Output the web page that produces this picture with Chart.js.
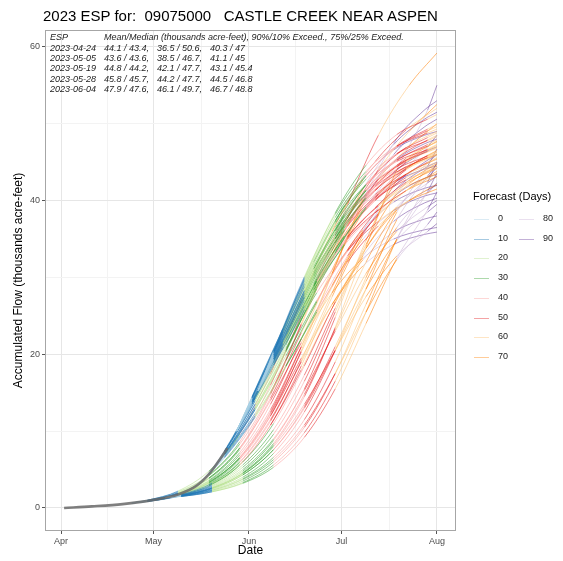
<!DOCTYPE html>
<html>
<head>
<meta charset="utf-8">
<script src="https://cdn.jsdelivr.net/npm/chart.js@4.4.1/dist/chart.umd.min.js"></script>
<style>
  body { margin: 0; background: #fff; font-family: "Liberation Sans", Arial, sans-serif; }
  #wrap { position: relative; width: 563px; height: 561px; }
  #espChart { position: absolute; left: 0; top: 0; }
  #title { position: absolute; left: 43px; top: 7px; font-size: 15px; color: #000; white-space: pre; }
  #espTable { position: absolute; left: 0; top: 0; font-size: 9px; font-style: italic; color: #222; white-space: pre; }
  #espTable div { position: absolute; line-height: 10px; }
  #legend { position: absolute; left: 0; top: 0; font-size: 9px; color: #222; }
  #legend div { position: absolute; white-space: pre; }
  .legendTitle { font-size: 11px; color: #000; }
  .legendKey { width: 15px; height: 0; }
</style>
</head>
<body>
<div id="wrap">
  <canvas id="espChart" width="563" height="561"></canvas>
  <div id="title">2023 ESP for:  09075000   CASTLE CREEK NEAR ASPEN</div>
  <div id="espTable"></div>
  <div id="legend"></div>
</div>
<script>
// x values are days since april 1
const monthTickDays = [0, 30, 61, 91, 122];
const monthTickLabels = ["Apr", "May", "Jun", "Jul", "Aug"];
const minorTickDays = [15, 45.5, 76, 106.5];
const flowTicks = [0, 20, 40, 60];
const flowMinorTicks = [10, 30, 50];

// forecast lead (days) legend
const leadLabels = [0, 10, 20, 30, 40, 50, 60, 70, 80, 90];
const leadColors = ["166,206,227", "31,120,180", "178,223,138", "51,160,44", "251,154,153",
  "227,26,28", "253,191,111", "255,127,0", "202,178,214", "106,61,154"];

// summary table
const espDates = ["2023-04-24", "2023-05-05", "2023-05-19", "2023-05-28", "2023-06-04"];
const espMeanMedian = ["44.1 / 43.4,", "43.6 / 43.6,", "44.8 / 44.2,", "45.8 / 45.7,", "47.9 / 47.6,"];
const esp90to10 = ["36.5 / 50.6,", "38.5 / 46.7,", "42.1 / 47.7,", "44.2 / 47.7,", "46.1 / 49.7,"];
const esp75to25 = ["40.3 / 47", "41.1 / 45", "43.1 / 45.4", "44.5 / 46.8", "46.7 / 48.8"];

// observed accumulated flow (thousands acre-feet)
const obsDays = [1, 10, 20, 30, 38, 44, 48, 51, 54];
const obsFlow = [0, 0.2, 0.5, 1.05, 1.75, 2.9, 4.4, 6.0, 7.8];

// forecast issued 2023-04-24
const f1Issue = 23;
const f1Days = [23, 28, 38, 48, 58, 68, 78, 88, 98, 108, 118, 122];
const f1Traces = [
  [0.65, 0.9, 1.7, 3.4, 6.5, 12.0, 19.5, 26.5, 31.5, 34.3, 35.6, 35.9],
  [0.65, 0.95, 1.9, 3.9, 7.8, 14.0, 21.5, 28.0, 32.5, 35.0, 36.2, 36.5],
  [0.65, 0.85, 1.6, 3.1, 6.0, 11.5, 19.0, 26.5, 32.3, 35.9, 37.6, 38.0],
  [0.65, 0.85, 1.5, 2.9, 5.6, 10.8, 18.0, 26.0, 32.8, 37.3, 39.7, 40.3],
  [0.65, 0.95, 1.9, 3.8, 7.6, 14.3, 22.8, 30.5, 36.2, 39.8, 41.6, 42.0],
  [0.65, 0.9, 1.7, 3.3, 6.5, 12.3, 20.3, 28.8, 35.8, 40.5, 42.9, 43.4],
  [0.65, 1.0, 2.1, 4.3, 8.6, 16.0, 25.0, 33.0, 38.8, 42.3, 44.1, 44.5],
  [0.65, 0.85, 1.6, 3.0, 5.9, 11.3, 19.2, 28.0, 36.0, 41.8, 45.0, 46.0],
  [0.65, 0.95, 1.8, 3.6, 7.2, 13.5, 22.0, 31.0, 38.5, 43.6, 46.3, 47.0],
  [0.65, 1.0, 2.2, 4.8, 9.6, 17.5, 27.0, 36.0, 42.7, 46.6, 48.5, 49.0],
  [0.65, 0.9, 1.7, 3.3, 6.6, 12.5, 21.0, 30.5, 39.5, 46.0, 49.6, 50.6],
  [0.65, 0.95, 2.0, 4.2, 8.3, 15.0, 24.0, 33.5, 41.5, 47.3, 50.6, 51.5],
  [0.65, 0.9, 1.75, 3.5, 6.9, 12.8, 21.0, 29.0, 35.0, 38.7, 40.6, 41.0],
  [0.65, 0.85, 1.55, 2.9, 5.6, 10.8, 18.5, 27.5, 35.5, 41.2, 44.2, 45.0],
  [0.65, 0.95, 1.9, 3.9, 7.8, 14.8, 23.8, 33.0, 40.2, 45.0, 47.4, 48.0],
  [0.65, 0.9, 1.7, 3.2, 6.3, 12.0, 20.5, 30.5, 40.0, 47.5, 51.8, 53.0]
];

// forecast issued 2023-05-05
const f2Issue = 34;
const f2Days = [34, 39, 49, 59, 69, 79, 89, 99, 109, 119, 122];
const f2Traces = [
  [1.35, 1.6, 2.6, 4.5, 8.0, 13.5, 20.5, 27.5, 32.8, 36.0, 37.0],
  [1.35, 1.55, 2.3, 3.7, 6.3, 10.8, 17.5, 25.5, 32.3, 36.9, 38.5],
  [1.35, 1.65, 2.8, 5.0, 9.0, 15.3, 23.0, 30.5, 36.0, 39.2, 40.0],
  [1.35, 1.5, 2.1, 3.2, 5.3, 9.2, 15.5, 24.0, 32.5, 38.8, 41.1],
  [1.35, 1.6, 2.5, 4.3, 7.6, 13.2, 21.0, 29.5, 36.5, 41.0, 42.3],
  [1.35, 1.7, 3.0, 5.6, 10.2, 17.3, 26.0, 33.8, 39.2, 42.3, 43.2],
  [1.35, 1.5, 2.2, 3.5, 6.0, 10.5, 17.5, 26.5, 35.0, 41.2, 43.6],
  [1.35, 1.6, 2.6, 4.6, 8.4, 14.8, 23.3, 32.0, 38.8, 43.0, 44.3],
  [1.35, 1.5, 2.1, 3.3, 5.6, 9.8, 16.5, 25.5, 35.0, 42.4, 45.0],
  [1.35, 1.7, 2.9, 5.3, 9.6, 16.5, 25.5, 34.3, 40.9, 44.9, 46.0],
  [1.35, 1.55, 2.4, 4.0, 7.1, 12.5, 20.5, 30.0, 38.5, 44.5, 46.7],
  [1.35, 1.6, 2.6, 4.5, 8.2, 14.5, 23.5, 34.0, 44.0, 51.8, 55.0],
  [1.35, 1.6, 2.5, 4.3, 7.6, 13.0, 20.5, 28.5, 34.8, 38.5, 39.5],
  [1.35, 1.75, 3.2, 6.0, 11.0, 18.5, 26.8, 33.8, 38.8, 41.4, 42.0],
  [1.35, 1.55, 2.3, 3.8, 6.6, 11.5, 19.0, 28.5, 37.5, 43.2, 44.8],
  [1.35, 1.65, 2.7, 4.8, 8.8, 15.5, 24.8, 34.8, 42.7, 47.0, 48.5]
];

// forecast issued 2023-05-19
const f3Issue = 48;
const f3Days = [48, 53, 63, 73, 83, 93, 103, 113, 122];
const f3Traces = [
  [4.4, 7.0, 13.5, 20.8, 28.0, 33.5, 37.3, 40.0, 41.5],
  [4.4, 6.6, 12.0, 18.5, 25.5, 32.0, 36.7, 40.0, 42.1],
  [4.4, 7.3, 14.3, 22.0, 29.5, 35.0, 38.8, 41.5, 43.1],
  [4.4, 6.9, 12.8, 19.8, 27.0, 33.4, 38.1, 41.6, 43.8],
  [4.4, 7.2, 13.9, 21.5, 29.0, 35.2, 39.4, 42.4, 44.2],
  [4.4, 6.7, 12.3, 19.2, 26.8, 33.6, 38.9, 42.6, 44.8],
  [4.4, 7.3, 14.3, 22.2, 30.4, 36.7, 40.9, 43.7, 45.4],
  [4.4, 7.0, 13.1, 20.5, 28.5, 35.7, 40.8, 44.4, 46.5],
  [4.4, 7.4, 14.6, 22.8, 31.2, 38.0, 42.5, 45.6, 47.7],
  [4.4, 7.0, 13.5, 21.2, 29.8, 37.7, 44.0, 49.0, 52.5],
  [4.4, 7.2, 14.0, 21.8, 29.5, 35.3, 39.3, 42.0, 43.5],
  [4.4, 6.5, 11.8, 18.4, 25.8, 32.8, 38.3, 42.2, 44.5],
  [4.4, 7.3, 14.4, 22.5, 30.8, 37.3, 41.7, 44.5, 46.0],
  [4.4, 6.9, 12.8, 20.3, 28.8, 36.7, 42.8, 47.0, 50.0],
  [4.4, 7.0, 13.0, 20.5, 29.5, 39.5, 48.5, 55.0, 59.2]
];

// forecast issued 2023-05-28
const f4Issue = 57;
const f4Days = [57, 62, 72, 82, 92, 102, 112, 122];
const f4Traces = [
  [10.0, 13.8, 21.3, 28.4, 34.2, 38.4, 41.3, 43.5],
  [10.0, 14.3, 22.6, 30.2, 36.2, 40.2, 42.7, 44.2],
  [10.0, 13.5, 20.8, 28.0, 34.4, 39.1, 42.4, 44.5],
  [10.0, 14.4, 23.0, 30.7, 36.7, 40.8, 43.4, 45.0],
  [10.0, 13.9, 21.7, 29.1, 35.4, 40.1, 43.4, 45.5],
  [10.0, 14.1, 22.4, 30.4, 36.9, 41.4, 44.1, 45.9],
  [10.0, 13.6, 21.0, 28.4, 35.1, 40.4, 44.0, 46.3],
  [10.0, 14.5, 23.3, 31.4, 38.0, 42.4, 45.1, 46.8],
  [10.0, 14.0, 22.0, 29.8, 36.6, 41.9, 45.5, 47.7],
  [10.0, 14.3, 22.8, 31.1, 38.2, 43.4, 46.9, 49.0],
  [10.0, 13.8, 21.4, 28.9, 35.4, 40.0, 43.0, 44.8],
  [10.0, 14.3, 22.9, 31.1, 37.5, 41.8, 44.4, 46.0],
  [10.0, 13.7, 21.5, 29.3, 36.1, 41.3, 45.0, 47.2],
  [10.0, 14.4, 23.3, 32.0, 39.4, 45.1, 49.2, 52.0]
];

// forecast issued 2023-06-04
const f5Issue = 64;
const f5Days = [64, 69, 79, 89, 99, 109, 119, 122];
const f5Traces = [
  [15.3, 18.9, 26.3, 33.4, 39.0, 42.6, 45.0, 45.6],
  [15.3, 19.4, 27.5, 35.0, 40.3, 43.7, 45.6, 46.1],
  [15.3, 18.6, 25.8, 33.2, 39.2, 43.3, 45.9, 46.5],
  [15.3, 19.7, 28.3, 36.0, 41.3, 44.6, 46.4, 46.9],
  [15.3, 19.2, 27.0, 34.5, 40.4, 44.4, 46.7, 47.3],
  [15.3, 19.9, 28.8, 36.5, 42.0, 45.3, 47.1, 47.6],
  [15.3, 19.4, 27.8, 35.5, 41.4, 45.2, 47.3, 47.9],
  [15.3, 20.2, 29.6, 37.4, 42.8, 46.1, 47.8, 48.3],
  [15.3, 19.7, 28.3, 36.1, 42.1, 46.1, 48.2, 48.8],
  [15.3, 20.4, 30.1, 38.2, 43.8, 47.1, 48.8, 49.3],
  [15.3, 19.9, 29.1, 37.2, 43.2, 47.1, 49.3, 49.9],
  [15.3, 20.2, 29.9, 38.4, 44.6, 48.6, 50.6, 51.2],
  [15.3, 19.6, 28.0, 35.4, 40.8, 44.1, 45.8, 46.3],
  [15.3, 20.1, 29.3, 37.0, 42.1, 45.1, 46.6, 47.0],
  [15.3, 19.3, 27.4, 35.1, 41.3, 45.5, 47.9, 48.5],
  [15.3, 20.3, 29.8, 37.8, 43.3, 47.0, 49.1, 49.6]
];

// colour of a segment from its lead time in days (rounded to nearest 10)
let leadColor = function (lead, alpha) {
  let bin = Math.min(leadColors.length - 1, Math.max(0, Math.floor((lead + 5.5) / 10)));
  return "rgba(" + leadColors[bin] + "," + alpha + ")";
};

// turn a forecast into line datasets
let makeTraces = function (issue, days, traces) {
  return traces.map(function (values) {
    return {
      data: days.map((d, i) => ({ x: d, y: values[i] })),
      borderColor: leadColor(0, 0.6),
      borderWidth: 0.9,
      segment: {
        borderColor: ctx => leadColor(ctx.p0.parsed.x - issue, 0.6)
      }
    };
  });
};

let datasets = [
  {
    data: obsDays.map((d, i) => ({ x: d, y: obsFlow[i] })),
    borderColor: "rgba(105,105,105,0.85)",
    borderWidth: 2.6
  }
].concat(
  makeTraces(f5Issue, f5Days, f5Traces),
  makeTraces(f4Issue, f4Days, f4Traces),
  makeTraces(f3Issue, f3Days, f3Traces),
  makeTraces(f2Issue, f2Days, f2Traces),
  makeTraces(f1Issue, f1Days, f1Traces)
);

// panel border on all four sides
const panelBorder = {
  id: "panelBorder",
  afterDraw(chart) {
    const a = chart.chartArea;
    const c = chart.ctx;
    c.save();
    c.strokeStyle = "#a6a6a6";
    c.lineWidth = 1;
    c.strokeRect(a.left + 0.5, a.top + 0.5, a.right - a.left - 1, a.bottom - a.top - 1);
    c.restore();
  }
};

let xTicks = monthTickDays.concat(minorTickDays).sort((a, b) => a - b);
let yTicks = flowTicks.concat(flowMinorTicks).sort((a, b) => a - b);

new Chart(document.getElementById("espChart"), {
  type: "line",
  data: { datasets: datasets },
  options: {
    responsive: false,
    animation: false,
    devicePixelRatio: 1,
    layout: { padding: { left: 0, top: 30, right: 107, bottom: 0 } },
    elements: {
      point: { radius: 0 },
      line: { cubicInterpolationMode: "monotone" }
    },
    plugins: {
      legend: { display: false },
      tooltip: { enabled: false }
    },
    scales: {
      x: {
        type: "linear",
        min: -5.2,
        max: 128.2,
        afterBuildTicks: s => { s.ticks = xTicks.map(v => ({ value: v })); },
        afterFit: s => { s.height = 30; },
        border: { display: false },
        grid: {
          color: c => monthTickDays.includes(c.tick.value) ? "#e6e6e6" : "#f3f3f3",
          tickColor: c => monthTickDays.includes(c.tick.value) ? "#555" : "rgba(0,0,0,0)",
          tickLength: 3
        },
        ticks: {
          autoSkip: false,
          maxRotation: 0,
          padding: 2,
          color: "#4d4d4d",
          font: { family: "Liberation Sans", size: 9 },
          callback: v => {
            let i = monthTickDays.indexOf(v);
            return i >= 0 ? monthTickLabels[i] : "";
          }
        },
        title: {
          display: true,
          text: "Date",
          color: "#000",
          font: { family: "Liberation Sans", size: 12 },
          padding: { top: 0, bottom: 3 }
        }
      },
      y: {
        min: -3,
        max: 62.2,
        afterBuildTicks: s => { s.ticks = yTicks.map(v => ({ value: v })); },
        afterFit: s => { s.width = 45; },
        border: { display: false },
        grid: {
          color: c => flowTicks.includes(c.tick.value) ? "#e6e6e6" : "#f3f3f3",
          tickColor: c => flowTicks.includes(c.tick.value) ? "#555" : "rgba(0,0,0,0)",
          tickLength: 3
        },
        ticks: {
          autoSkip: false,
          padding: 2,
          color: "#4d4d4d",
          font: { family: "Liberation Sans", size: 9 },
          callback: v => flowTicks.includes(v) ? String(v) : ""
        },
        title: {
          display: true,
          text: "Accumulated Flow (thousands acre-feet)",
          color: "#000",
          font: { family: "Liberation Sans", size: 12 },
          padding: { top: 11, bottom: 0 }
        }
      }
    }
  },
  plugins: [panelBorder]
});

// write the summary table into the top of the panel
let renderTable = function () {
  const table = document.getElementById("espTable");
  let addCell = function (text, left, top) {
    let cell = document.createElement("div");
    cell.innerText = text;
    cell.style.left = left + "px";
    cell.style.top = top + "px";
    table.appendChild(cell);
  };
  addCell("ESP", 50, 32);
  addCell("Mean/Median (thousands acre-feet), 90%/10% Exceed., 75%/25% Exceed.", 104, 32);
  for (let i = 0; i < espDates.length; i++) {
    let top = 42.5 + i * 10.4;
    addCell(espDates[i], 50, top);
    addCell(espMeanMedian[i], 104, top);
    addCell(esp90to10[i], 157, top);
    addCell(esp75to25[i], 210, top);
  }
};

// legend in two columns, 8 rows in the first
let renderLegend = function () {
  const legend = document.getElementById("legend");
  let head = document.createElement("div");
  head.className = "legendTitle";
  head.innerText = "Forecast (Days)";
  head.style.left = "473px";
  head.style.top = "190px";
  legend.appendChild(head);
  for (let i = 0; i < leadLabels.length; i++) {
    let col = i < 8 ? 0 : 1;
    let row = i < 8 ? i : i - 8;
    let y = 219 + row * 19.7;
    let key = document.createElement("div");
    key.className = "legendKey";
    key.style.left = (474 + col * 45) + "px";
    key.style.top = y + "px";
    key.style.borderTop = "1.5px solid " + leadColor(leadLabels[i], 0.4);
    legend.appendChild(key);
    let label = document.createElement("div");
    label.innerText = String(leadLabels[i]);
    label.style.left = (498 + col * 45) + "px";
    label.style.top = (y - 6) + "px";
    legend.appendChild(label);
  }
};

renderTable();
renderLegend();
</script>
</body>
</html>
